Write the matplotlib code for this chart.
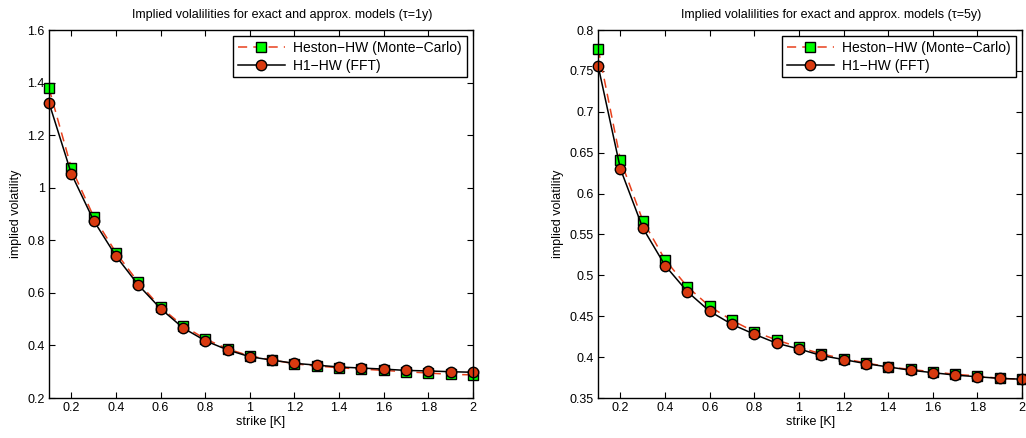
#!/usr/bin/env python3

import matplotlib

matplotlib.use("Agg")
import matplotlib.pyplot as plt
from numpy import array

strikes = [0.1, 0.2, 0.3, 0.4, 0.5, 0.6, 0.7, 0.8, 0.9, 1.0,
           1.1, 1.2, 1.3, 1.4, 1.5, 1.6, 1.7, 1.8, 1.9, 2.0]

# tau = 1y
mc_1y = [1.378, 1.075, 0.890, 0.753, 0.640, 0.545, 0.475, 0.425, 0.387, 0.360,
         0.345, 0.330, 0.322, 0.315, 0.310, 0.305, 0.300, 0.295, 0.290, 0.288]
fft_1y = [1.323, 1.053, 0.875, 0.740, 0.630, 0.540, 0.467, 0.418, 0.383, 0.357,
          0.344, 0.332, 0.325, 0.318, 0.314, 0.310, 0.305, 0.303, 0.300, 0.298]

# tau = 5y
mc_5y = [0.777, 0.641, 0.567, 0.519, 0.486, 0.462, 0.445, 0.431, 0.421, 0.412,
         0.404, 0.398, 0.393, 0.388, 0.385, 0.382, 0.379, 0.377, 0.374, 0.373]
fft_5y = [0.756, 0.630, 0.558, 0.512, 0.480, 0.456, 0.440, 0.428, 0.417, 0.410,
          0.402, 0.397, 0.392, 0.388, 0.384, 0.381, 0.378, 0.376, 0.374, 0.373]

plt.rcParams["font.family"] = ["Liberation Sans", "DejaVu Sans"]
plt.rcParams["font.size"] = 9

LINE_RED = "#e8401c"
MARK_GREEN = "#00ff00"
MARK_RED = "#d83a10"


def vol_plot(ax, mc, fft, tau, ylim, yticks):
    ax.plot(array(strikes), array(mc), "--", color=LINE_RED, lw=1.1,
            marker="s", ms=7.5, mfc=MARK_GREEN, mec="black", mew=1.0,
            dashes=(6, 4), label="Heston\u2212HW (Monte\u2212Carlo)")
    ax.plot(array(strikes), array(fft), "-", color="black", lw=1.1,
            marker="o", ms=7.5, mfc=MARK_RED, mec="black", mew=1.0,
            label="H1\u2212HW (FFT)")
    ax.set_xlim(0.1, 2.0)
    ax.set_ylim(*ylim)
    ax.set_xticks([0.2, 0.4, 0.6, 0.8, 1, 1.2, 1.4, 1.6, 1.8, 2])
    ax.set_xticklabels(["0.2", "0.4", "0.6", "0.8", "1", "1.2", "1.4", "1.6", "1.8", "2"])
    ax.set_yticks(yticks)
    ax.set_yticklabels([("%g" % t) for t in yticks])
    ax.tick_params(direction="in", top=True, right=True, length=4, pad=3,
                   labelsize=9)
    ax.set_xlabel("strike [K]", labelpad=1, fontsize=9)
    ax.set_ylabel("implied volatility", labelpad=4, fontsize=9)
    # title sits a bit right of centre in the original
    ax.set_title("Implied volalilities for exact and approx. models (\u03c4=%dy)" % tau,
                 fontsize=9, pad=9, x=0.55)
    for sp in ax.spines.values():
        sp.set_linewidth(1.0)
    leg = ax.legend(loc="upper right", fancybox=False, framealpha=1,
                    edgecolor="black", borderaxespad=0.45, handlelength=3.4,
                    fontsize=10, borderpad=0.35, labelspacing=0.25,
                    handletextpad=0.6)
    leg.get_frame().set_linewidth(1.0)


fig = plt.figure(figsize=(10.26, 4.38), dpi=100)
ax1 = fig.add_axes([0.0478, 0.0913, 0.4132, 0.8402])
ax2 = fig.add_axes([0.583, 0.0913, 0.4132, 0.8402])

vol_plot(ax1, mc_1y, fft_1y, 1, (0.2, 1.6), [0.2, 0.4, 0.6, 0.8, 1, 1.2, 1.4, 1.6])
vol_plot(ax2, mc_5y, fft_5y, 5, (0.35, 0.8),
         [0.35, 0.4, 0.45, 0.5, 0.55, 0.6, 0.65, 0.7, 0.75, 0.8])
for ax in (ax1, ax2):
    for ln in ax.lines:
        ln.set_clip_on(False)

plt.savefig("out.png", dpi=100)
